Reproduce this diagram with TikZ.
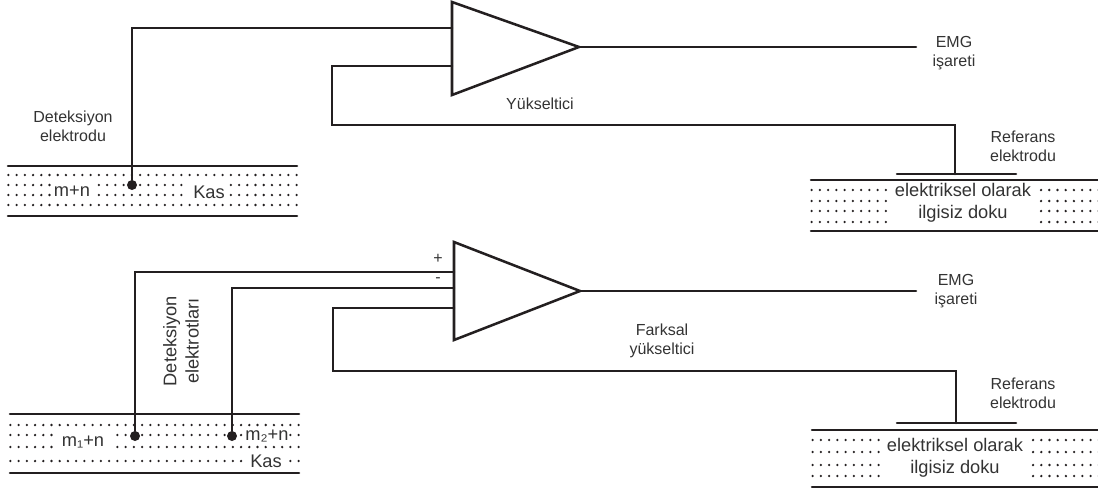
\documentclass[tikz,border=0pt]{standalone}
\usepackage{fontspec}
\setmainfont{Liberation Sans}
\definecolor{inkline}{HTML}{231F20}
\definecolor{inktext}{HTML}{333333}
\tikzset{
  wire/.style={line width=1.9pt,inkline,line cap=round,line join=miter},
  label/.style={inktext,font=\fontsize{12}{14.3}\selectfont,align=center,inner sep=0pt},
  big/.style={inktext,font=\fontsize{13.7}{16.6}\selectfont,align=center,inner sep=0pt},
  probe/.style={circle,fill=inkline,inner sep=0pt,minimum size=7.5pt}
}
\newcommand{\dotrow}[3]{
  \foreach \x in {#2,...,#3} \fill[inkline] (\x*8.24+8.3,#1) circle (0.95pt);
}
\begin{document}
\begin{tikzpicture}[x=0.75pt,y=-0.75pt]
\useasboundingbox (0,0) rectangle (1098,490);

\coordinate (ampa1) at (452,2);
\coordinate (ampa2) at (452,95);
\coordinate (ampaout) at (579,47);
\coordinate (emga) at (916,47);
\draw[wire] (ampa1) -- (ampa2) -- (ampaout) -- cycle;
\draw[wire] (ampaout) -- (emga);

\coordinate (ina) at (452,28);
\coordinate (fba) at (452,66);
\coordinate (grounda) at (955,174);
\node[probe] (deta) at (132,185) {};
\draw[wire] (ina) -| (deta);
\draw[wire] (fba) -- (332,66) -- (332,125) -| (grounda);
\coordinate (bara1) at (897,174);
\coordinate (bara2) at (1016,174);
\draw[wire] (bara1) -- (bara2);

\draw[wire] (8,166) -- (297,166);
\draw[wire] (8,216) -- (297,216);
\dotrow{175}{0}{35}
\dotrow{185}{0}{5} \dotrow{185}{11}{21} \dotrow{185}{27}{35}
\dotrow{195}{0}{5} \dotrow{195}{11}{21} \dotrow{195}{27}{35}
\dotrow{205}{0}{35}

\draw[wire] (811,180) -- (1098,180);
\draw[wire] (811,231) -- (1098,231);
\foreach \y in {190,201,211,222} {
  \foreach \x in {0,...,9} \fill[inkline] (\x*8.24+811.7,\y) circle (0.95pt);
  \foreach \x in {0,...,7} \fill[inkline] (\x*8.24+1041,\y) circle (0.95pt);
}

\node[label] (deteka) at (73,126) {Deteksiyon\\elektrodu};
\node[big] (kasa) at (209,192) {Kas};
\node[big] (mna) at (72,191) {m+n};
\node[label] (yuk) at (540,104) {Yükseltici};
\node[label] (emgla) at (954,53) {EMG\\işareti};
\node[label] (refa) at (1023,146) {Referans\\elektrodu};
\node[big] (dokua) at (963,203) {elektriksel olarak\\ilgisiz doku};

\coordinate (ampb1) at (454,242);
\coordinate (ampb2) at (454,340);
\coordinate (ampbout) at (580,291);
\coordinate (emgb) at (916,291);
\draw[wire] (ampb1) -- (ampb2) -- (ampbout) -- cycle;
\draw[wire] (ampbout) -- (emgb);

\coordinate (plus) at (454,272);
\coordinate (minus) at (454,288);
\coordinate (fbb) at (454,308);
\coordinate (groundb) at (956,423);
\node[probe] (detb1) at (135,436) {};
\node[probe] (detb2) at (232,436) {};
\draw[wire] (plus) -| (detb1);
\draw[wire] (minus) -| (detb2);
\draw[wire] (fbb) -- (333,308) -- (333,371) -| (groundb);
\coordinate (barb1) at (897,423);
\coordinate (barb2) at (1016,423);
\draw[wire] (barb1) -- (barb2);

\draw[wire] (10,414) -- (299,414);
\draw[wire] (10,473) -- (299,473);
\begin{scope}[xshift=1.5pt]
\dotrow{425}{0}{35}
\dotrow{435}{0}{5} \dotrow{435}{13}{28} \dotrow{435}{34}{35}
\dotrow{447}{0}{5} \dotrow{447}{13}{35}
\dotrow{461}{0}{28} \dotrow{461}{34}{35}
\end{scope}

\draw[wire] (812,430) -- (1098,430);
\draw[wire] (812,487) -- (1098,487);
\foreach \y in {440,452,465,476} {
  \foreach \x in {0,...,8} \fill[inkline] (\x*8.24+812.7,\y) circle (0.95pt);
  \foreach \x in {0,...,8} \fill[inkline] (\x*8.24+1033,\y) circle (0.95pt);
}

\node[big] (mnb1) at (83,442) {m₁+n};
\node[big] (mnb2) at (267,436) {m₂+n};
\node[big] (kasb) at (266,461) {Kas};
\node[big,rotate=90] (detekb) at (181,341) {Deteksiyon\\elektrotları};
\node[label] (plusl) at (438,259) {+};
\node[label] (minusl) at (438,280) {-};
\node[label] (far) at (662,341) {Farksal\\yükseltici};
\node[label] (emglb) at (956,291) {EMG\\işareti};
\node[label] (refb) at (1023,393) {Referans\\elektrodu};
\node[big] (dokub) at (955,458) {elektriksel olarak\\ilgisiz doku};
\end{tikzpicture}
\end{document}
